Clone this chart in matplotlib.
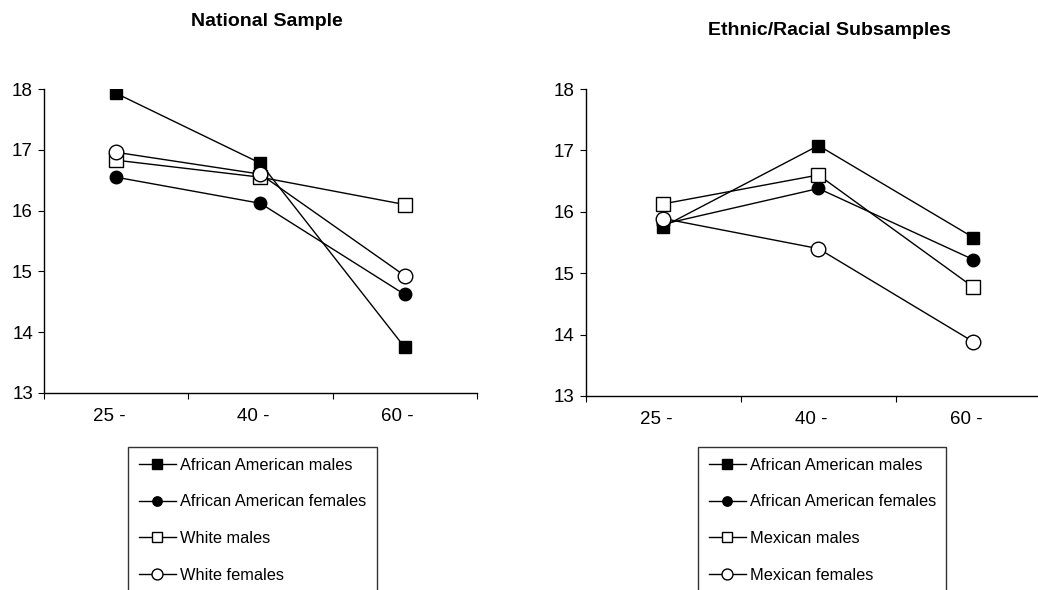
import matplotlib
matplotlib.use("Agg")
import matplotlib.pyplot as plt
from matplotlib.transforms import ScaledTranslation

plt.rcParams['font.family'] = ['Liberation Sans', 'DejaVu Sans']

age_groups = ["25 -", "40 -", "60 -"]

# National sample
nat_labels = ["African American males", "African American females",
              "White males", "White females"]
nat_aa_males = [17.93, 16.78, 13.75]
nat_aa_females = [16.55, 16.12, 14.62]
nat_white_males = [16.83, 16.55, 16.10]
nat_white_females = [16.96, 16.60, 14.93]

# Ethnic/racial subsamples
eth_labels = ["African American males", "African American females",
              "Mexican males", "Mexican females"]
eth_aa_males = [15.76, 17.08, 15.58]
eth_aa_females = [15.80, 16.38, 15.22]
eth_mex_males = [16.13, 16.60, 14.77]
eth_mex_females = [15.89, 15.40, 13.88]

styles = [dict(marker="s", mfc="black", ms=9),
          dict(marker="o", mfc="black", ms=9),
          dict(marker="s", mfc="white", ms=10.5),
          dict(marker="o", mfc="white", ms=10.5)]


def draw_panel(ax, series, labels):
    xs = [i + 0.5 for i in range(len(age_groups))]
    handles = []
    for vals, lab, st in zip(series, labels, styles):
        h, = ax.plot(xs, vals, color="black", lw=1.0, mec="black",
                     mew=1.0, label=lab, **st)
        handles.append(h)
    ax.set_xlim(0, 3)
    ax.set_ylim(13, 18)
    ax.set_yticks(range(13, 19))
    ax.set_xticks([0, 1, 2, 3])
    ax.set_xticklabels([])
    ax.set_xticks(xs, minor=True)
    ax.set_xticklabels(age_groups, minor=True)
    ax.tick_params(axis="x", which="minor", length=0, pad=11, labelsize=13.5)
    ax.tick_params(axis="x", which="major", length=4, direction="out")
    ax.tick_params(axis="y", length=4, direction="out", labelsize=13.5, pad=4)
    shift = ScaledTranslation(-0.07, 0, fig.dpi_scale_trans)
    for lbl in ax.get_xticklabels(minor=True):
        lbl.set_transform(lbl.get_transform() + shift)
    for s in ["top", "right"]:
        ax.spines[s].set_visible(False)
    for s in ["left", "bottom"]:
        ax.spines[s].set_linewidth(1.0)
    return handles


fig = plt.figure(figsize=(10.38, 5.9), dpi=100)

ax1 = fig.add_axes([0.0424, 0.334, 0.417, 0.515])
h1 = draw_panel(ax1, [nat_aa_males, nat_aa_females, nat_white_males, nat_white_females], nat_labels)

ax2 = fig.add_axes([0.5645, 0.329, 0.448, 0.520])
h2 = draw_panel(ax2, [eth_aa_males, eth_aa_females, eth_mex_males, eth_mex_females], eth_labels)

fig.text(0.2567, 0.963, "National Sample", ha="center", va="center",
         fontsize=14, fontweight="bold")
fig.text(0.7987, 0.949, "Ethnic/Racial Subsamples", ha="center", va="center",
         fontsize=14, fontweight="bold")

for handles, anchor in [(h1, (0.1233, 0.2424)), (h2, (0.6724, 0.2424))]:
    leg = fig.legend(handles=handles, loc="upper left", bbox_to_anchor=anchor,
                     fontsize=11.8, frameon=True, fancybox=False,
                     edgecolor="black", labelspacing=1.32, handlelength=2.3,
                     handletextpad=0.2, borderpad=0.65, borderaxespad=0,
                     markerscale=0.75)
    leg.get_frame().set_linewidth(1.0)

fig.savefig("out.png", dpi=100)
